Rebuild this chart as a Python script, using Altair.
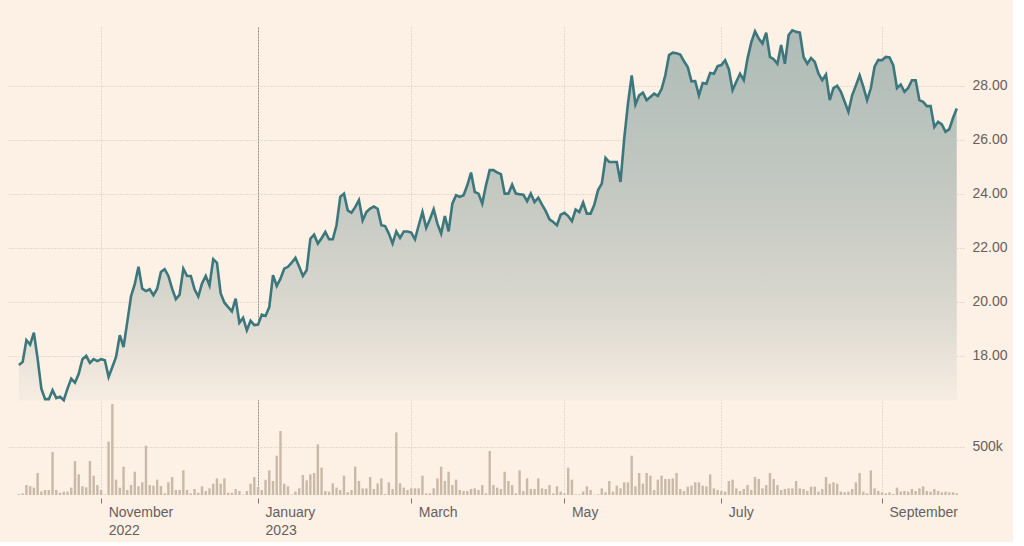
import altair as alt
import pandas as pd

# London Stock Exchange holidays in the period (trading-day calendar)
HOLIDAYS = ["2022-12-26", "2022-12-27", "2023-01-02", "2023-04-07", "2023-04-10",
            "2023-05-01", "2023-05-08", "2023-05-29", "2023-08-28"]

PRICE = [
    17.65, 17.77, 18.57, 18.41, 18.85, 17.89, 16.78, 16.39, 16.39, 16.72,
    16.43, 16.48, 16.35, 16.78, 17.15, 17.0, 17.33, 17.87, 17.99, 17.73,
    17.87, 17.8, 17.87, 17.83, 17.21, 17.58, 17.95, 18.76, 18.32, 19.25,
    20.2, 20.65, 21.29, 20.48, 20.39, 20.46, 20.24, 20.48, 21.1, 21.2,
    20.95, 20.48, 20.09, 20.26, 21.22, 20.95, 20.95, 20.46, 20.19, 20.67,
    20.95, 20.6, 21.57, 21.44, 20.3, 19.96, 19.8, 19.64, 20.11, 19.22,
    19.4, 18.94, 19.29, 19.13, 19.15, 19.52, 19.47, 19.8, 20.98, 20.58,
    20.85, 21.22, 21.29, 21.44, 21.62, 21.3, 20.95, 21.16, 22.33, 22.48,
    22.15, 22.35, 22.58, 22.31, 22.31, 22.83, 23.88, 24.0, 23.38, 23.29,
    23.5, 23.76, 23.01, 23.32, 23.45, 23.52, 23.44, 22.83, 22.8, 22.52,
    22.15, 22.6, 22.36, 22.6, 22.6, 22.56, 22.31, 22.83, 23.32, 22.73,
    23.05, 23.42, 22.89, 22.52, 23.17, 22.6, 23.63, 23.94, 23.88, 23.94,
    24.31, 24.78, 24.06, 24.0, 23.63, 24.31, 24.87, 24.87, 24.78, 24.72,
    24.0, 24.0, 24.33, 24.0, 23.98, 23.96, 23.72, 24.0, 23.69, 23.85,
    23.59, 23.35, 23.05, 22.95, 22.83, 23.22, 23.29, 23.17, 22.98, 23.41,
    23.32, 23.67, 23.26, 23.26, 23.59, 24.13, 24.37, 25.32, 25.17, 25.17,
    25.17, 24.43, 26.04, 27.33, 28.38, 27.3, 27.64, 27.74, 27.46, 27.58,
    27.7, 27.62, 27.87, 28.38, 29.13, 29.22, 29.2, 29.15, 28.9, 28.69,
    28.16, 28.17, 27.64, 28.1, 28.07, 28.47, 28.44, 28.72, 28.76, 28.94,
    28.61, 27.83, 28.14, 28.44, 28.2, 29.0, 29.6, 30.01, 29.74, 29.56,
    29.96, 29.06, 28.98, 28.81, 29.5, 28.81, 29.87, 30.05, 29.99, 29.96,
    29.06, 28.81, 29.02, 28.88, 28.44, 28.2, 28.41, 27.46, 27.91, 27.99,
    27.77, 27.4, 27.03, 27.64, 28.0, 28.38, 27.95, 27.46, 27.9, 28.7,
    28.95, 28.94, 29.06, 29.04, 28.76, 27.91, 28.04, 27.77, 27.91, 28.2,
    28.2, 27.46, 27.4, 27.24, 27.24, 26.47, 26.66, 26.56, 26.29, 26.39,
    26.8, 27.15,
]

VOLUME_K = [
    10, 17, 103, 90, 76, 228, 35, 52, 52, 445,
    52, 24, 35, 35, 76, 352, 214, 90, 79, 352,
    200, 103, 52, 5, 552, 941, 159, 76, 293, 52,
    103, 241, 90, 131, 510, 103, 97, 159, 93, 17,
    131, 186, 52, 52, 255, 52, 17, 62, 24, 90,
    41, 69, 117, 172, 117, 172, 24, 24, 62, 41,
    5, 41, 117, 186, 83, 52, 159, 255, 145, 407,
    662, 117, 90, 5, 35, 69, 207, 152, 214, 228,
    524, 283, 41, 35, 121, 76, 52, 200, 30, 52,
    293, 145, 69, 69, 186, 62, 121, 172, 10, 131,
    62, 648, 121, 76, 52, 69, 69, 69, 200, 17,
    17, 69, 172, 293, 145, 241, 103, 159, 52, 41,
    41, 62, 69, 52, 103, 17, 455, 103, 76, 62,
    241, 145, 103, 17, 255, 41, 172, 62, 62, 172,
    69, 62, 103, 17, 90, 35, 17, 283, 159, 7,
    7, 35, 90, 52, 3, 7, 69, 28, 145, 35,
    97, 69, 131, 131, 407, 90, 228, 117, 228, 200,
    52, 159, 200, 166, 166, 172, 228, 62, 41, 86,
    97, 131, 131, 97, 90, 214, 69, 52, 41, 35,
    145, 159, 69, 41, 62, 103, 52, 186, 166, 69,
    103, 228, 166, 103, 52, 62, 69, 69, 145, 69,
    62, 41, 86, 86, 35, 62, 186, 117, 131, 117,
    35, 28, 35, 62, 131, 228, 35, 17, 255, 69,
    41, 28, 17, 28, 10, 76, 35, 41, 35, 62,
    41, 69, 90, 41, 35, 62, 41, 28, 35, 28,
    28, 17,
]

TICK_MONTHS = ["2022-11", "2023-01", "2023-03", "2023-05", "2023-07", "2023-09"]
TICK_LABELS = [["November", "2022"], ["January", "2023"], ["March"], ["May"], ["July"], ["September"]]
YEAR_START_MONTH = "2023-01"
PRICE_TICKS = [18, 20, 22, 24, 26, 28]
VOLUME_TICKS = [500000]
VOLUME_TICK_LABEL = "500k"

BG = "#fdf0e5"
LINE = "#3b777c"
BAR = "#c9b9a8"
GRID = "#cfc5bb"
TEXT = "#66605c"
FONT = "Liberation Sans"

days = [d for d in pd.bdate_range("2022-09-30", "2023-09-29")
        if d.strftime("%Y-%m-%d") not in HOLIDAYS]
assert len(days) == len(PRICE) == len(VOLUME_K)

df = pd.DataFrame({
    "idx": list(range(len(days))),
    "date": [d.strftime("%Y-%m-%d") for d in days],
    "price": PRICE,
    "volume": [v * 1000 for v in VOLUME_K],
})

tick_idx = [next(i for i, d in enumerate(days) if d.strftime("%Y-%m") == m) for m in TICK_MONTHS]
year_idx = tick_idx[TICK_MONTHS.index(YEAR_START_MONTH)]

expr = "''"
for i, lab in reversed(list(zip(tick_idx, TICK_LABELS))):
    lab_js = "[" + ",".join("'" + s + "'" for s in lab) + "]"
    expr = f"datum.value == {i} ? {lab_js} : ({expr})"

x_enc = alt.X(
    "idx:Q",
    scale=alt.Scale(domain=[-1.32, 251.6], nice=False, zero=False),
    axis=alt.Axis(
        values=tick_idx, labelExpr=expr, title=None, domain=False,
        grid=True,
        gridColor={"condition": {"test": f"datum.value == {year_idx}", "value": "#8f8984"}, "value": GRID},
        gridDash={"condition": {"test": f"datum.value == {year_idx}", "value": [2, 1]}, "value": [1, 2]},
        gridWidth=1,
        ticks=True, tickSize=5, tickColor="#7d7670", offset=3,
        labelAlign="left", labelBaseline="top", labelOffset=7, labelPadding=2,
        labelFlush=False, labelOverlap=False, labelLineHeight=18,
        labelFont=FONT, labelFontSize=14, labelColor=TEXT,
    ),
)

price_scale = alt.Scale(domain=[12.84, 30.17], nice=False, zero=False)
price_axis = alt.Axis(
    orient="right", values=PRICE_TICKS, format=".2f", title=None,
    domain=False, ticks=False, grid=True, gridColor=GRID, gridDash=[1, 2],
    labelPadding=8, labelFont=FONT, labelFontSize=14, labelColor=TEXT,
)

area = alt.Chart(df).mark_area(
    color=alt.LinearGradient(
        gradient="linear", x1=0, x2=0, y1=0, y2=1,
        stops=[
            alt.GradientStop(color="#aebbb6", offset=0),
            alt.GradientStop(color="#c4c9c2", offset=0.45),
            alt.GradientStop(color="#dad8cf", offset=0.75),
            alt.GradientStop(color="#f7ece2", offset=1),
        ],
    )
).encode(
    x=x_enc,
    y=alt.Y("price:Q", scale=price_scale, axis=price_axis),
    y2=alt.Y2Datum(min(PRICE)),
)

line = alt.Chart(df).mark_line(color=LINE, strokeWidth=2.6).encode(
    x=x_enc,
    y=alt.Y("price:Q", scale=price_scale, axis=price_axis),
)

bars = alt.Chart(df).mark_bar(color=BAR, width=2.4).encode(
    x=x_enc,
    y=alt.Y(
        "volume:Q",
        scale=alt.Scale(domain=[0, 4845000], nice=False),
        axis=alt.Axis(
            orient="right", values=VOLUME_TICKS, labelExpr=f"'{VOLUME_TICK_LABEL}'", title=None,
            domain=False, ticks=False, grid=True, gridColor=GRID, gridDash=[1, 2],
            labelPadding=8, labelFont=FONT, labelFontSize=14, labelColor=TEXT,
        ),
    ),
)

chart = alt.layer(alt.layer(area, line), bars).resolve_scale(y="independent").properties(
    width=955, height=468,
    padding={"left": 9, "top": 25, "right": 5, "bottom": 5},
    background=BG,
).configure_view(stroke=None)

chart.save("out.html", embed_options={"renderer": "svg", "actions": False})
